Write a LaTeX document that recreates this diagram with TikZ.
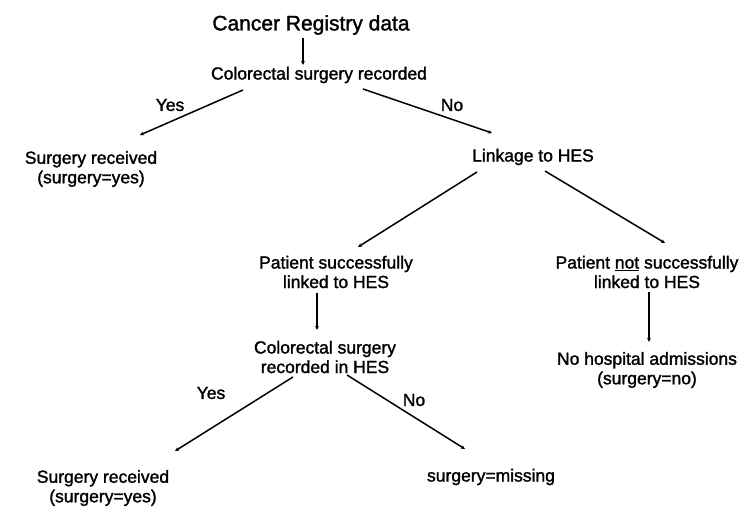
\documentclass[tikz,border=0pt]{standalone}
\usepackage{fontspec}
\setmainfont{Liberation Sans}[BoldFont=Liberation Sans,BoldFeatures={FakeBold=1.5}]
\usetikzlibrary{arrows.meta}
\begin{document}
\begin{tikzpicture}[x=1pt,y=-1pt,
  txt/.style={inner sep=0pt,align=center,font=\fontsize{17.5}{19.5}\selectfont\bfseries},
  ttl/.style={inner sep=0pt,font=\fontsize{21}{24}\selectfont\bfseries},
  lbl/.style={inner sep=0pt,font=\fontsize{17.5}{19.5}\selectfont\bfseries},
  arr/.style={line width=1.5pt,-{Stealth[length=4pt,width=3.8pt]}}]
\useasboundingbox (0,0) rectangle (744,510);
% decision tree nodes
\node[ttl] (crd) at (311,25) {Cancer Registry data};
\node[txt] (csr) at (319,75) {Colorectal surgery recorded};
\node[txt] (sr1) at (91,169) {Surgery received\\(surgery=yes)};
\node[txt] (lnk) at (533,157) {Linkage to HES};
\node[txt] (pl)  at (336,272) {Patient successfully\\linked to HES};
\node[txt] (pnl) at (647,272) {Patient \underline{not} successfully\\linked to HES};
\node[txt] (csh) at (325,357) {Colorectal surgery\\recorded in HES};
\node[txt] (nha) at (647,370) {No hospital admissions\\(surgery=no)};
\node[txt] (sr2) at (103,488) {Surgery received\\(surgery=yes)};
\node[txt] (sm)  at (491,477) {surgery=missing};
% branch labels
\node[lbl] (y1) at (170,105) {Yes};
\node[lbl] (n1) at (452,105) {No};
\node[lbl] (y2) at (211,393) {Yes};
\node[lbl] (n2) at (414,400) {No};
% connectors
\draw[arr] ([shift={(-8,13)}]crd.center) -- ([shift={(-16,-10)}]csr.center);
\draw[arr] ([shift={(-76,15)}]csr.center) -- ([shift={(49,-34)}]sr1.center);
\draw[arr] ([shift={(44,14)}]csr.center) -- ([shift={(-41,-24)}]lnk.center);
\draw[arr] ([shift={(-56,15)}]lnk.center) -- ([shift={(22,-25)}]pl.center);
\draw[arr] ([shift={(12,14)}]lnk.center) -- ([shift={(18,-29)}]pnl.center);
\draw[arr] ([shift={(-19,21)}]pl.center) -- ([shift={(-8,-27)}]csh.center);
\draw[arr] ([shift={(2,20)}]pnl.center) -- ([shift={(2,-28)}]nha.center);
\draw[arr] ([shift={(-32,20)}]csh.center) -- ([shift={(72,-37)}]sr2.center);
\draw[arr] ([shift={(22,18)}]csh.center) -- ([shift={(-26,-28)}]sm.center);
\end{tikzpicture}
\end{document}
